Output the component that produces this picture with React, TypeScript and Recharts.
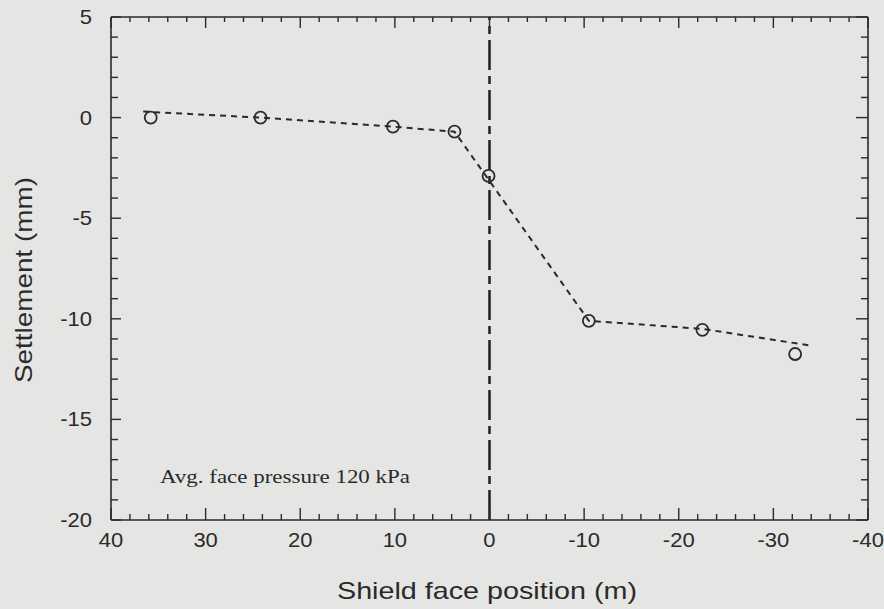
import {
  ComposedChart,
  Customized,
  Line,
  ReferenceLine,
  Scatter,
  XAxis,
  YAxis,
} from "recharts";

// measured settlement points (open circles)
const measuredX = [35.8, 24.2, 10.2, 3.7, 0.1, -10.5, -22.5, -32.3];
const measuredY = [0.0, 0.0, -0.45, -0.7, -2.9, -10.1, -10.55, -11.75];

// dashed trend line
const trendX = [36.6, 24.2, 10.2, 3.7, -10.5, -22.5, -34.2];
const trendY = [0.3, 0.0, -0.45, -0.7, -10.1, -10.5, -11.35];

const xMajorTicks = [40, 30, 20, 10, 0, -10, -20, -30, -40];
const yMajorTicks = [5, 0, -5, -10, -15, -20];
const xTicks = Array.from({ length: 41 }, (_, i) => 40 - i * 2);
const yTicks = Array.from({ length: 26 }, (_, i) => 5 - i);

const xTitle = "Shield face position (m)";
const yTitle = "Settlement (mm)";
const note = "Avg. face pressure 120 kPa";

const measured = measuredX.map((x, i) => ({ x, y: measuredY[i] }));
const trend = trendX.map((x, i) => ({ x, y: trendY[i] }));

const INK = "#2a2a2a";
const SANS = "'Liberation Sans', Arial, sans-serif";

// inward tick marks, labels only on majors
function BottomTick({ x, y, payload }: any) {
  const major = xMajorTicks.includes(payload.value);
  return (
    <g>
      <line x1={x} x2={x} y1={y} y2={y - (major ? 12 : 6)} stroke={INK} strokeWidth={1.4} />
      {major && (
        <text
          x={x}
          y={y + 27}
          textAnchor="middle"
          fontSize={20}
          fontFamily={SANS}
          fill={INK}
          transform={`translate(${x} 0) scale(1.1 1) translate(${-x} 0)`}
        >
          {payload.value}
        </text>
      )}
    </g>
  );
}

function TopTick({ x, y, payload }: any) {
  const major = xMajorTicks.includes(payload.value);
  return <line x1={x} x2={x} y1={y} y2={y + (major ? 11 : 5)} stroke={INK} strokeWidth={1.4} />;
}

function LeftTick({ x, y, payload }: any) {
  const major = yMajorTicks.includes(payload.value);
  const tx = x - 19;
  return (
    <g>
      <line x1={x} x2={x + (major ? 10 : 7)} y1={y} y2={y} stroke={INK} strokeWidth={1.4} />
      {major && (
        <text
          x={tx}
          y={y + 7}
          textAnchor="end"
          fontSize={20}
          fontFamily={SANS}
          fill={INK}
          transform={`translate(${tx} 0) scale(1.1 1) translate(${-tx} 0)`}
        >
          {payload.value}
        </text>
      )}
    </g>
  );
}

function RightTick({ x, y, payload }: any) {
  const major = yMajorTicks.includes(payload.value);
  return <line x1={x} x2={x - (major ? 12 : 7)} y1={y} y2={y} stroke={INK} strokeWidth={1.4} />;
}

function Circle({ cx, cy }: any) {
  return <circle cx={cx} cy={cy} r={6} fill="none" stroke={INK} strokeWidth={1.8} />;
}

function Texts() {
  return (
    <g fill={INK}>
      <text
        x={160}
        y={483}
        fontSize={18}
        fontFamily="'Liberation Serif', 'Times New Roman', serif"
        textLength={250}
        lengthAdjust="spacingAndGlyphs"
      >
        {note}
      </text>
      <text
        x={487}
        y={599}
        textAnchor="middle"
        fontSize={24}
        fontFamily={SANS}
        textLength={300}
        lengthAdjust="spacingAndGlyphs"
      >
        {xTitle}
      </text>
      <text
        x={32}
        y={280}
        textAnchor="middle"
        fontSize={24}
        fontFamily={SANS}
        textLength={206}
        lengthAdjust="spacingAndGlyphs"
        transform="rotate(-90 32 280)"
      >
        {yTitle}
      </text>
    </g>
  );
}

export default function App() {
  return (
    <div
      style={{
        position: "fixed",
        left: 0,
        top: 0,
        width: 884,
        height: 609,
        background: "#e5e5e3",
      }}
    >
      <ComposedChart width={884} height={609} margin={{ top: 0, right: 0, bottom: 0, left: 0 }}>
        <XAxis
          xAxisId="bottom"
          type="number"
          dataKey="x"
          domain={[-40, 40]}
          reversed
          allowDataOverflow
          ticks={xTicks}
          interval={0}
          height={89}
          tickSize={0}
          tickMargin={0}
          tickLine={false}
          tick={BottomTick}
          axisLine={{ stroke: INK, strokeWidth: 1.6 }}
        />
        <XAxis
          xAxisId="top"
          orientation="top"
          type="number"
          dataKey="x"
          domain={[-40, 40]}
          reversed
          allowDataOverflow
          ticks={xTicks}
          interval={0}
          height={17}
          tickSize={0}
          tickMargin={0}
          tickLine={false}
          tick={TopTick}
          axisLine={{ stroke: INK, strokeWidth: 1.6 }}
        />
        <YAxis
          yAxisId="left"
          type="number"
          dataKey="y"
          domain={[-20, 5]}
          allowDataOverflow
          ticks={yTicks}
          interval={0}
          width={111}
          tickSize={0}
          tickMargin={0}
          tickLine={false}
          tick={LeftTick}
          axisLine={{ stroke: INK, strokeWidth: 1.6 }}
        />
        <YAxis
          yAxisId="right"
          orientation="right"
          type="number"
          dataKey="y"
          domain={[-20, 5]}
          allowDataOverflow
          ticks={yTicks}
          interval={0}
          width={16}
          tickSize={0}
          tickMargin={0}
          tickLine={false}
          tick={RightTick}
          axisLine={{ stroke: INK, strokeWidth: 1.6 }}
        />
        {/* shield face at 0 m */}
        <ReferenceLine
          x={0}
          xAxisId="bottom"
          yAxisId="left"
          stroke="#1e1e1e"
          strokeWidth={2.5}
          strokeDasharray="30 6 8 6"
        />
        <Line
          data={trend}
          dataKey="y"
          xAxisId="bottom"
          yAxisId="left"
          type="linear"
          stroke={INK}
          strokeWidth={2}
          strokeDasharray="6 5"
          dot={false}
          activeDot={false}
          isAnimationActive={false}
        />
        <Scatter
          data={measured}
          dataKey="y"
          xAxisId="bottom"
          yAxisId="left"
          shape={Circle}
          isAnimationActive={false}
        />
        <Customized component={Texts} />
      </ComposedChart>
    </div>
  );
}
